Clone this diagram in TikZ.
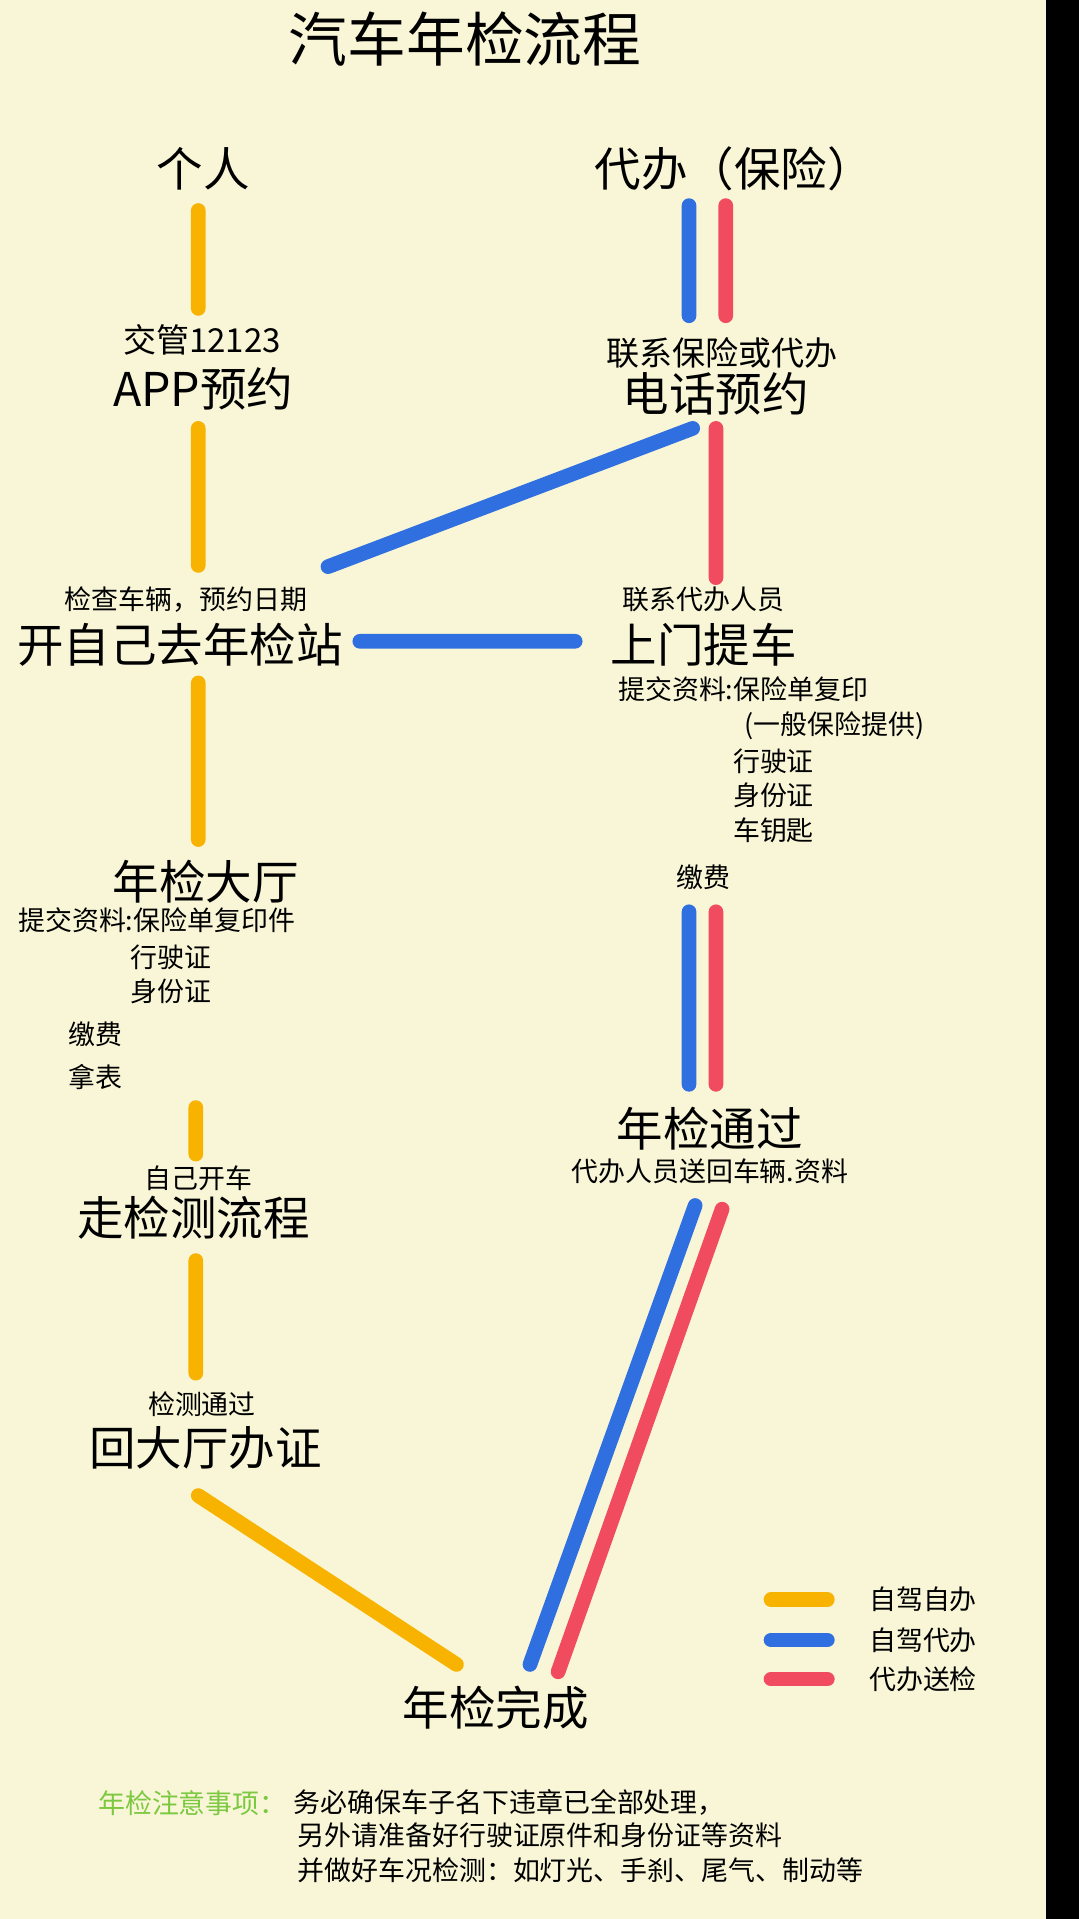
\documentclass[tikz,border=0pt]{standalone}
\usepackage{fontspec}
\setmainfont{Noto Sans CJK SC}
\definecolor{bg}{HTML}{F8F6D6}
\definecolor{cor}{HTML}{F8B300}
\definecolor{cbl}{HTML}{2F6FE0}
\definecolor{crd}{HTML}{F04B5E}
\definecolor{cgr}{HTML}{7CC840}
\begin{document}
\begin{tikzpicture}[x=1pt,y=-1pt,
  big/.style={inner sep=0pt,font=\fontsize{38}{40}\selectfont},
  mid/.style={inner sep=0pt,font=\fontsize{27}{29}\selectfont},
  sm/.style={inner sep=0pt,font=\fontsize{22}{24}\selectfont},
  ttl/.style={inner sep=0pt,font=\fontsize{48}{50}\selectfont},
  ln/.style={line width=12pt,line cap=round}]
\useasboundingbox (0,0) rectangle (882,1568);
\fill[bg] (0,0) rectangle (882,1568);
\fill[black] (855,0) rectangle (882,1568);
\node[ttl] (t) at (380,32) {汽车年检流程};
\node[big] (p) at (166,138) {个人};
\node[big] (d) at (600,138) {代办（保险）};
\node[mid] (a1) at (165,278) {交管12123};
\node[big] (a2) at (166,318) {APP预约};
\node[mid] (b1) at (590,288) {联系保险或代办};
\node[big] (b2) at (585,322) {电话预约};
\node[sm] (c1) at (152,490) {检查车辆，预约日期};
\node[big] (c2) at (147,527) {开自己去年检站};
\node[sm] (e1) at (575,490) {联系代办人员};
\node[big] (e2) at (575,527) {上门提车};
\node[sm,anchor=west] (f1) at (505,563) {提交资料:保险单复印};
\node[sm] (f2) at (682,593) {(一般保险提供)};
\node[sm] (f3) at (632,622) {行驶证};
\node[sm] (f4) at (632,650) {身份证};
\node[sm] (f5) at (632,678) {车钥匙};
\node[sm] (f6) at (575,717) {缴费};
\node[big] (g1) at (168,720) {年检大厅};
\node[sm] (g2) at (128,752) {提交资料:保险单复印件};
\node[sm] (g3) at (140,782) {行驶证};
\node[sm] (g4) at (140,810) {身份证};
\node[sm] (g5) at (78,845) {缴费};
\node[sm] (g6) at (78,880) {拿表};
\node[sm] (h1) at (162,963) {自己开车};
\node[big] (h2) at (158,995) {走检测流程};
\node[sm] (i1) at (165,1147) {检测通过};
\node[big] (i2) at (168,1183) {回大厅办证};
\node[big] (j1) at (580,922) {年检通过};
\node[sm] (j2) at (580,957) {代办人员送回车辆.资料};
\node[big] (k) at (405,1395) {年检完成};
% orange
\coordinate (o1) at (162,172); \coordinate (o2) at (162,252);
\coordinate (o3) at (162,350); \coordinate (o4) at (162,462);
\coordinate (o5) at (162,558); \coordinate (o6) at (162,686);
\coordinate (o7) at (160,905); \coordinate (o8) at (160,943);
\coordinate (o9) at (160,1030); \coordinate (o10) at (160,1122);
\coordinate (o11) at (162,1222); \coordinate (o12) at (373,1360);
\draw[ln,cor] (o1)--(o2) (o3)--(o4) (o5)--(o6) (o7)--(o8) (o9)--(o10) (o11)--(o12);
% blue
\coordinate (b1a) at (563,168); \coordinate (b1b) at (563,258);
\coordinate (b2a) at (566,350); \coordinate (b2b) at (268,463);
\coordinate (b3a) at (294,524); \coordinate (b3b) at (470,524);
\coordinate (b4a) at (563,745); \coordinate (b4b) at (563,886);
\coordinate (b5a) at (568,985); \coordinate (b5b) at (433,1360);
\draw[ln,cbl] (b1a)--(b1b) (b2a)--(b2b) (b3a)--(b3b) (b4a)--(b4b) (b5a)--(b5b);
% red
\coordinate (r1a) at (593,168); \coordinate (r1b) at (593,258);
\coordinate (r2a) at (585,350); \coordinate (r2b) at (585,472);
\coordinate (r4a) at (585,745); \coordinate (r4b) at (585,886);
\coordinate (r5a) at (590,988); \coordinate (r5b) at (456,1366);
\draw[ln,crd] (r1a)--(r1b) (r2a)--(r2b) (r4a)--(r4b) (r5a)--(r5b);
% legend
\coordinate (l1a) at (630,1307); \coordinate (l1b) at (676,1307);
\coordinate (l2a) at (630,1340); \coordinate (l2b) at (676,1340);
\coordinate (l3a) at (630,1372); \coordinate (l3b) at (676,1372);
\draw[ln,cor] (l1a)--(l1b); \draw[ln,cbl] (l2a)--(l2b); \draw[ln,crd] (l3a)--(l3b);
\node[sm,anchor=west] (lt1) at (710,1307) {自驾自办};
\node[sm,anchor=west] (lt2) at (710,1340) {自驾代办};
\node[sm,anchor=west] (lt3) at (710,1372) {代办送检};
% notes
\node[sm,anchor=west,text=cgr] (n0) at (80,1473) {年检注意事项：};
\node[sm,anchor=west] (n1) at (240,1473) {务必确保车子名下违章已全部处理，};
\node[sm,anchor=west] (n2) at (243,1500) {另外请准备好行驶证原件和身份证等资料};
\node[sm,anchor=west] (n3) at (243,1528) {并做好车况检测：如灯光、手刹、尾气、制动等};
\end{tikzpicture}
\end{document}
